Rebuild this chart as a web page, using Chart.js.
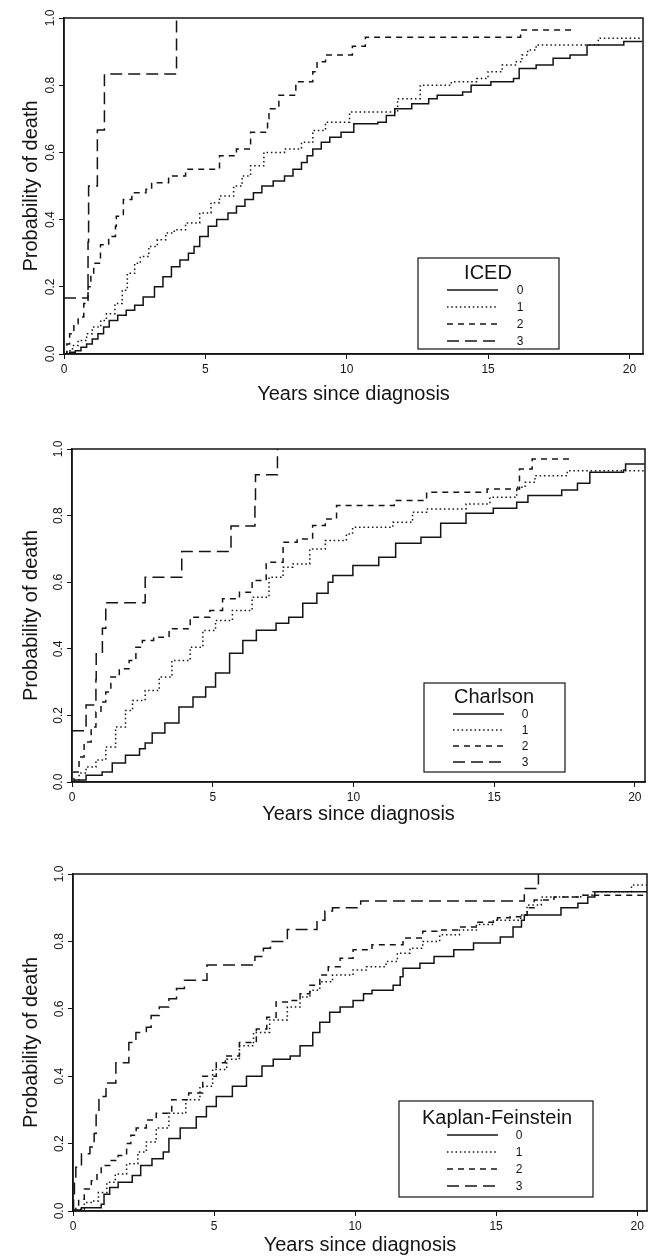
<!DOCTYPE html>
<html>
<head>
<meta charset="utf-8">
<script src="https://cdn.jsdelivr.net/npm/chart.js@4.4.0/dist/chart.umd.min.js"></script>
<style>
html,body{margin:0;padding:0;background:#fff;}
canvas{position:absolute;left:0;display:block;}
</style>
</head>
<body>
<canvas id="c1" width="649" height="410" style="top:0px"></canvas>
<canvas id="c2" width="649" height="420" style="top:410px"></canvas>
<canvas id="c3" width="649" height="427" style="top:830px"></canvas>
<script>
// ---------- data ----------
const xTicks = [0, 5, 10, 15, 20];
const yTicks = [0, 0.2, 0.4, 0.6, 0.8, 1.0];
const groups = ['0', '1', '2', '3'];
const panelTitles = ['ICED', 'Charlson', 'Kaplan-Feinstein'];
const xTitle = 'Years since diagnosis';
const yTitle = 'Probability of death';

// ICED
const icedT0 = [0,0.2,0.4,0.6,0.8,1.0,1.2,1.4,1.6,1.9,2.2,2.5,2.8,3.2,3.5,3.8,4.1,4.4,4.6,4.8,5.1,5.4,5.8,6.1,6.4,6.7,7.0,7.4,7.8,8.1,8.4,8.6,8.8,9.1,9.4,9.8,10.25,11.1,11.4,11.7,12.3,12.9,13.2,14.1,14.4,15.1,15.9,16.1,16.7,17.3,17.9,18.5,19.8,20.45];
const icedP0 = [0,0.005,0.01,0.02,0.03,0.045,0.06,0.08,0.1,0.115,0.13,0.145,0.17,0.2,0.23,0.26,0.28,0.3,0.32,0.35,0.38,0.4,0.42,0.44,0.46,0.48,0.5,0.515,0.53,0.55,0.57,0.59,0.61,0.63,0.645,0.66,0.685,0.69,0.71,0.73,0.745,0.76,0.77,0.78,0.8,0.81,0.82,0.85,0.86,0.88,0.89,0.92,0.93,0.93];
const icedT1 = [0,0.1,0.3,0.5,0.8,1.0,1.3,1.5,1.8,2.06,2.24,2.5,2.7,3.0,3.3,3.6,3.9,4.3,4.8,5.2,5.5,6.0,6.3,6.6,7.07,7.8,8.4,8.8,9.25,10.1,11.8,12.6,13.7,14.6,15.0,15.5,16.0,16.2,16.4,16.7,18.9,20.45];
const icedP1 = [0,0.01,0.025,0.04,0.06,0.08,0.1,0.12,0.15,0.19,0.24,0.27,0.29,0.32,0.34,0.36,0.37,0.39,0.42,0.45,0.47,0.5,0.53,0.56,0.6,0.61,0.63,0.665,0.69,0.72,0.76,0.8,0.81,0.82,0.84,0.86,0.87,0.89,0.905,0.92,0.94,0.94];
const icedT2 = [0,0.1,0.2,0.35,0.5,0.7,0.85,0.95,1.05,1.29,1.58,1.82,1.85,2.1,2.4,2.9,3.1,3.7,4.3,5.5,6.1,6.6,7.2,7.25,7.6,8.2,8.8,8.95,9.25,10.2,10.66,16.15,18.0];
const icedP2 = [0,0.03,0.06,0.09,0.11,0.15,0.2,0.24,0.27,0.325,0.35,0.38,0.41,0.46,0.48,0.49,0.51,0.53,0.55,0.59,0.61,0.66,0.7,0.73,0.77,0.81,0.84,0.87,0.89,0.916,0.943,0.964,0.964];
const icedT3 = [0,0.85,0.87,1.18,1.43,3.98];
const icedP3 = [0.167,0.333,0.5,0.667,0.833,1.0];

// Charlson
const chT0 = [0,0.1,0.5,1.07,1.43,1.9,2.4,2.6,2.85,3.3,3.8,4.3,4.75,5.1,5.6,6.07,6.55,7.25,7.7,8.2,8.7,9.1,9.27,9.98,10.9,11.5,12.4,13.1,14.0,14.97,15.8,16.2,17.4,17.96,18.4,19.6,19.67,20.35];
const chP0 = [0,0.006,0.02,0.03,0.057,0.08,0.1,0.117,0.147,0.177,0.225,0.255,0.285,0.327,0.387,0.425,0.456,0.477,0.495,0.537,0.567,0.6,0.62,0.65,0.675,0.717,0.735,0.777,0.807,0.822,0.84,0.86,0.877,0.897,0.93,0.937,0.955,0.955];
const chT1 = [0,0.25,0.5,0.85,1.2,1.55,1.9,2.15,2.6,3.1,3.55,4.2,4.65,5.1,5.7,6.4,7.0,7.5,7.85,8.45,9.0,9.75,9.97,11.4,12.1,12.6,14.0,14.85,15.8,16.1,16.45,17.6,20.35];
const chP1 = [0,0.027,0.045,0.066,0.105,0.165,0.215,0.245,0.275,0.315,0.365,0.405,0.455,0.485,0.515,0.555,0.615,0.645,0.655,0.7,0.725,0.745,0.765,0.78,0.81,0.82,0.835,0.855,0.885,0.9,0.92,0.935,0.94];
const chT2 = [0,0.07,0.25,0.43,0.68,0.85,1.03,1.2,1.38,1.68,2.03,2.27,2.5,2.9,3.45,4.2,4.9,5.35,5.95,6.4,6.9,7.5,8.0,8.55,9.0,9.4,11.45,12.6,14.75,15.9,16.35,17.7];
const chP2 = [0,0.03,0.075,0.12,0.165,0.21,0.24,0.27,0.315,0.34,0.365,0.405,0.425,0.435,0.46,0.495,0.515,0.55,0.57,0.605,0.66,0.72,0.73,0.77,0.79,0.83,0.845,0.87,0.88,0.94,0.97,0.97];
const chT3 = [0,0.5,0.85,0.86,1.08,1.2,2.6,3.9,5.65,6.5,6.52,7.3];
const chP3 = [0.154,0.231,0.308,0.385,0.462,0.538,0.615,0.692,0.769,0.846,0.923,1.0];

// Kaplan-Feinstein
const kfT0 = [0,0.05,0.3,1.0,1.1,1.3,1.6,2.1,2.4,2.8,3.2,3.4,3.8,4.37,4.73,5.08,5.65,6.15,6.7,7.1,7.7,8.05,8.5,8.75,9.1,9.47,9.93,10.3,10.6,11.35,11.6,11.7,12.3,12.8,13.5,14.2,15.15,15.6,15.9,16.0,17.3,17.9,18.25,18.5,20.35];
const kfP0 = [0,0.003,0.01,0.02,0.05,0.07,0.085,0.105,0.135,0.155,0.175,0.215,0.246,0.28,0.31,0.34,0.37,0.4,0.43,0.45,0.46,0.49,0.53,0.56,0.59,0.605,0.625,0.645,0.655,0.67,0.695,0.72,0.735,0.755,0.775,0.795,0.813,0.843,0.863,0.878,0.9,0.913,0.932,0.947,0.95];
const kfT1 = [0,0.2,0.4,0.7,0.9,1.2,1.5,1.9,2.3,2.6,2.95,3.4,4.0,4.5,4.95,5.45,5.9,6.4,6.97,7.6,8.05,8.4,8.75,9.2,9.93,10.4,11.1,11.5,11.95,12.4,13.0,13.7,14.3,14.9,15.87,16.1,16.6,18.0,18.4,19.8,20.35];
const kfP1 = [0,0.005,0.025,0.03,0.055,0.085,0.11,0.14,0.175,0.205,0.246,0.29,0.33,0.37,0.42,0.45,0.49,0.53,0.567,0.605,0.635,0.655,0.68,0.7,0.715,0.725,0.74,0.765,0.78,0.8,0.82,0.834,0.85,0.863,0.878,0.908,0.932,0.937,0.947,0.967,0.967];
const kfT2 = [0,0.1,0.2,0.4,0.65,0.85,1.0,1.3,1.6,1.9,2.05,2.24,2.6,2.95,3.5,4.1,4.6,5.08,5.4,5.9,6.5,6.87,7.2,7.7,8.05,8.4,8.75,9.05,9.47,9.93,10.6,11.7,12.4,12.9,13.7,14.3,15.05,15.5,15.87,16.1,16.35,17.05,18.0,20.35];
const kfP2 = [0,0.01,0.035,0.065,0.09,0.11,0.135,0.15,0.165,0.2,0.225,0.246,0.27,0.29,0.33,0.35,0.4,0.44,0.46,0.5,0.54,0.575,0.62,0.625,0.645,0.67,0.7,0.725,0.75,0.775,0.79,0.81,0.83,0.834,0.843,0.857,0.87,0.873,0.878,0.9,0.923,0.932,0.937,0.937];
const kfT3 = [0,0.02,0.05,0.1,0.3,0.6,0.75,0.82,0.92,1.17,1.52,1.98,2.23,2.6,2.77,3.06,3.4,3.67,3.95,4.75,6.45,6.75,7.0,7.6,8.65,8.93,9.2,10.2,16.0,16.5];
const kfP3 = [0,0.04,0.09,0.13,0.17,0.19,0.23,0.29,0.34,0.38,0.44,0.5,0.53,0.545,0.58,0.605,0.63,0.66,0.685,0.73,0.755,0.78,0.8,0.835,0.863,0.89,0.9,0.92,0.957,1.0];

// ---------- rendering ----------
const FONT = '"Liberation Sans", Arial, Helvetica, sans-serif';
const INK = '#141414';
const dashes = [[], [1.5, 2.8], [6, 5], [12, 6]];

const framePlugin = {
  id: 'frame',
  afterDraw(chart) {
    const a = chart.chartArea, ctx = chart.ctx;
    ctx.save();
    ctx.strokeStyle = INK; ctx.lineWidth = 1.5;
    ctx.strokeRect(a.left, a.top, a.right - a.left, a.bottom - a.top);
    ctx.restore();
  }
};

const yLabelPlugin = {
  id: 'yLabels',
  afterDraw(chart) {
    const s = chart.scales.y, ctx = chart.ctx;
    ctx.save();
    ctx.font = '12px ' + FONT; ctx.fillStyle = INK;
    ctx.textAlign = 'center'; ctx.textBaseline = 'middle';
    s.ticks.forEach(t => {
      const y = s.getPixelForValue(t.value);
      ctx.save();
      ctx.translate(chart.chartArea.left - 13, y);
      ctx.rotate(-Math.PI / 2);
      ctx.fillText(t.value.toFixed(1), 0, 0);
      ctx.restore();
    });
    ctx.restore();
  }
};

const boxLegendPlugin = {
  id: 'boxLegend',
  afterDraw(chart, args, o) {
    const ctx = chart.ctx;
    ctx.save();
    ctx.fillStyle = '#fff';
    ctx.fillRect(o.x, o.y, o.w, o.h);
    ctx.strokeStyle = INK; ctx.lineWidth = 1.2;
    ctx.strokeRect(o.x, o.y, o.w, o.h);
    ctx.fillStyle = INK;
    ctx.textAlign = 'center'; ctx.textBaseline = 'middle';
    ctx.font = o.titleSize + 'px ' + FONT;
    ctx.fillText(o.title, o.titleX, o.titleY);
    ctx.font = '12px ' + FONT;
    chart.data.datasets.forEach((ds, i) => {
      const y = o.rowY + i * o.rowGap;
      ctx.save();
      ctx.strokeStyle = INK; ctx.lineWidth = 1.5;
      ctx.setLineDash(ds.borderDash || []);
      ctx.beginPath(); ctx.moveTo(o.lineX0, y); ctx.lineTo(o.lineX1, y); ctx.stroke();
      ctx.restore();
      ctx.fillText(ds.label, o.labelX, y + 0.5);
    });
    ctx.restore();
  }
};

function makeChart(id, geo, series, title, leg) {
  const datasets = series.map((s, i) => ({
    label: groups[i],
    data: s[0].map((t, j) => ({x: t, y: s[1][j]})),
    stepped: 'before',
    borderColor: INK,
    borderWidth: 1.5,
    borderDash: dashes[i],
    pointRadius: 0,
    fill: false
  }));
  return new Chart(document.getElementById(id), {
    type: 'line',
    data: {datasets},
    options: {
      responsive: false,
      animation: false,
      devicePixelRatio: 1,
      layout: {padding: {left: 0, top: geo.T, right: geo.W - geo.R, bottom: 0}},
      plugins: {
        legend: {display: false},
        tooltip: {enabled: false},
        boxLegend: Object.assign({title}, leg)
      },
      scales: {
        x: {
          type: 'linear', min: 0, max: geo.xMax,
          afterBuildTicks: s => { s.ticks = xTicks.map(v => ({value: v})); },
          afterFit: s => { s.height = geo.H - geo.B; },
          grid: {display: true, drawOnChartArea: false, drawTicks: true, tickLength: 5, color: INK, lineWidth: 1},
          border: {display: true, color: INK, width: 1.5},
          ticks: {color: INK, font: {family: FONT, size: 12}, padding: 3, maxRotation: 0, autoSkip: false,
                  callback: v => String(v)},
          title: {display: true, text: xTitle, color: INK, font: {family: FONT, size: 20},
                  padding: {top: 0, bottom: geo.xTitlePad}}
        },
        y: {
          type: 'linear', min: 0, max: 1,
          afterBuildTicks: s => { s.ticks = yTicks.map(v => ({value: v})); },
          afterFit: s => { s.width = geo.L; },
          grid: {display: true, drawOnChartArea: false, drawTicks: true, tickLength: 5, color: INK, lineWidth: 1},
          border: {display: true, color: INK, width: 1.5},
          ticks: {display: false},
          title: {display: true, text: yTitle, color: INK, font: {family: FONT, size: 20},
                  padding: {top: geo.yTitlePad, bottom: 0}}
        }
      }
    },
    plugins: [framePlugin, yLabelPlugin, boxLegendPlugin]
  });
}

makeChart('c1',
  {W: 649, H: 410, L: 64, T: 18, R: 643, B: 354, xMax: 20.48, xTitlePad: 4, yTitlePad: 19},
  [[icedT0, icedP0], [icedT1, icedP1], [icedT2, icedP2], [icedT3, icedP3]],
  panelTitles[0],
  {x: 418, y: 258, w: 141, h: 91, titleX: 488, titleY: 273, titleSize: 20,
   rowY: 290, rowGap: 17, lineX0: 447, lineX1: 498, labelX: 520});

makeChart('c2',
  {W: 649, H: 420, L: 72, T: 39, R: 645, B: 372, xMax: 20.36, xTitlePad: 4, yTitlePad: 19},
  [[chT0, chP0], [chT1, chP1], [chT2, chP2], [chT3, chP3]],
  panelTitles[1],
  {x: 424, y: 273, w: 141, h: 89, titleX: 494, titleY: 287, titleSize: 20,
   rowY: 304, rowGap: 16, lineX0: 453, lineX1: 504, labelX: 525});

makeChart('c3',
  {W: 649, H: 427, L: 73, T: 44, R: 647, B: 381, xMax: 20.35, xTitlePad: 0, yTitlePad: 19},
  [[kfT0, kfP0], [kfT1, kfP1], [kfT2, kfP2], [kfT3, kfP3]],
  panelTitles[2],
  {x: 399, y: 271, w: 194, h: 96, titleX: 497, titleY: 288, titleSize: 20,
   rowY: 305, rowGap: 17, lineX0: 447, lineX1: 498, labelX: 519});
</script>
</body>
</html>
